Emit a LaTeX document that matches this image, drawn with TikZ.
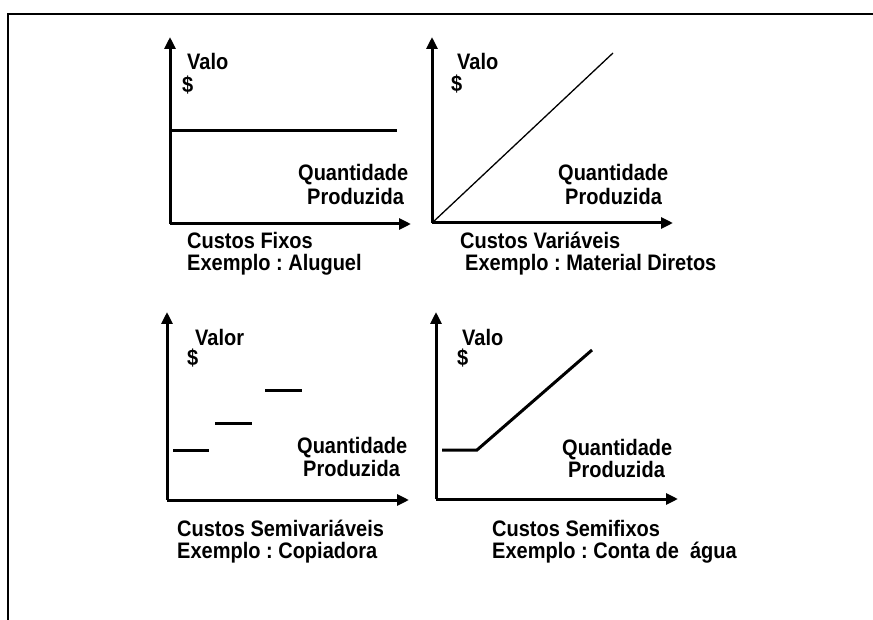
\documentclass[tikz,border=0pt]{standalone}
\usepackage{fontspec}
\setmainfont{Liberation Sans}
\usetikzlibrary{arrows.meta}
\newcommand{\Tx}[1]{\scalebox{1}[1.12]{#1}}
\frenchspacing
\begin{document}
\begin{tikzpicture}[x=1pt,y=-1pt,
  lbl/.style={anchor=base west,inner sep=0pt,font=\fontsize{20}{24}\selectfont\bfseries},
  axis/.style={line width=3pt,-{Triangle[length=12pt,width=11pt]}},
  thick3/.style={line width=3pt},
  thin1/.style={line width=1.3pt}]
\useasboundingbox (0,0) rectangle (873,620);
\draw[line width=2.5pt] (873,14) -- (8,14) -- (8,620);
% chart 1
\coordinate (o1) at (170,224);
\coordinate (y1) at (170,37);
\coordinate (x1) at (411,224);
\draw[axis] (o1) -- (y1);
\draw[axis] (o1) -- (x1);
\coordinate (h1a) at (170,131);
\coordinate (h1b) at (397,131);
\draw[thick3] (h1a) -- (h1b);
\node[lbl] (v1) at (187,70) {\Tx{Valo}};
\node[lbl] (d1) at (182,93) {\Tx{\$}};
\node[lbl] (q1) at (298,181) {\Tx{Quantidade}};
\node[lbl] (p1) at (307,205) {\Tx{Produzida}};
\node[lbl] (c1) at (187,249) {\Tx{Custos Fixos}};
\node[lbl] (e1) at (187,271) {\Tx{Exemplo : Aluguel}};
% chart 2
\coordinate (o2) at (432,223);
\coordinate (y2) at (432,37);
\coordinate (x2) at (673,223);
\draw[axis] (o2) -- (y2);
\draw[axis] (o2) -- (x2);
\coordinate (l2) at (613,53);
\draw[thin1] (o2) -- (l2);
\node[lbl] (v2) at (457,70) {\Tx{Valo}};
\node[lbl] (d2) at (451,92) {\Tx{\$}};
\node[lbl] (q2) at (558,181) {\Tx{Quantidade}};
\node[lbl] (p2) at (565,205) {\Tx{Produzida}};
\node[lbl] (c2) at (460,249) {\Tx{Custos Variáveis}};
\node[lbl] (e2) at (465,271) {\Tx{Exemplo : Material Diretos}};
% chart 3
\coordinate (o3) at (167,500);
\coordinate (y3) at (167,312);
\coordinate (x3) at (409,500);
\draw[axis] (o3) -- (y3);
\draw[axis] (o3) -- (x3);
\coordinate (s1a) at (173,450); \coordinate (s1b) at (209,450);
\coordinate (s2a) at (215,423); \coordinate (s2b) at (252,423);
\coordinate (s3a) at (265,390); \coordinate (s3b) at (302,390);
\draw[thick3] (s1a) -- (s1b);
\draw[thick3] (s2a) -- (s2b);
\draw[thick3] (s3a) -- (s3b);
\node[lbl] (v3) at (195,345) {\Tx{Valor}};
\node[lbl] (d3) at (187,366) {\Tx{\$}};
\node[lbl] (q3) at (297,453) {\Tx{Quantidade}};
\node[lbl] (p3) at (303,476) {\Tx{Produzida}};
\node[lbl] (c3) at (177,536) {\Tx{Custos Semivariáveis}};
\node[lbl] (e3) at (177,558) {\Tx{Exemplo : Copiadora}};
% chart 4
\coordinate (o4) at (436,499);
\coordinate (y4) at (436,312);
\coordinate (x4) at (678,499);
\draw[axis] (o4) -- (y4);
\draw[axis] (o4) -- (x4);
\coordinate (k1) at (442,450);
\coordinate (k2) at (477,450);
\coordinate (k3) at (592,350);
\draw[thick3] (k1) -- (k2) -- (k3);
\node[lbl] (v4) at (462,345) {\Tx{Valo}};
\node[lbl] (d4) at (457,366) {\Tx{\$}};
\node[lbl] (q4) at (562,455) {\Tx{Quantidade}};
\node[lbl] (p4) at (568,477) {\Tx{Produzida}};
\node[lbl] (c4) at (492,536) {\Tx{Custos Semifixos}};
\node[lbl] (e4) at (492,558) {\Tx{Exemplo : Conta de\ \ água}};
\end{tikzpicture}
\end{document}
